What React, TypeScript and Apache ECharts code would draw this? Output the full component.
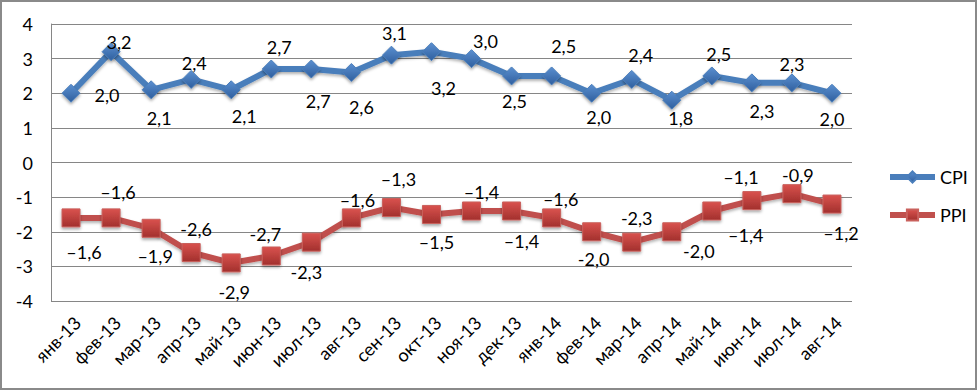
import React, { useEffect, useRef } from "react";
import * as echarts from "echarts";

const CATEGORIES = [
  "янв-13", "фев-13", "мар-13", "апр-13", "май-13", "июн-13", "июл-13", "авг-13",
  "сен-13", "окт-13", "ноя-13", "дек-13", "янв-14", "фев-14", "мар-14", "апр-14",
  "май-14", "июн-14", "июл-14", "авг-14",
];
const CPI = [2.0, 3.2, 2.1, 2.4, 2.1, 2.7, 2.7, 2.6, 3.1, 3.2, 3.0, 2.5, 2.5, 2.0, 2.4, 1.8, 2.5, 2.3, 2.3, 2.0];
const PPI = [-1.6, -1.6, -1.9, -2.6, -2.9, -2.7, -2.3, -1.6, -1.3, -1.5, -1.4, -1.4, -1.6, -2.0, -2.3, -2.0, -1.4, -1.1, -0.9, -1.2];
const PPI_LABELS = [
  "–1,6", "–1,6", "–1,9", "-2,6", "-2,9", "-2,7", "-2,3", "–1,6", "–1,3", "–1,5",
  "–1,4", "–1,4", "–1,6", "-2,0", "-2,3", "-2,0", "–1,4", "–1,1", "-0,9", "–1,2",
];
const Y_MIN = -4;
const Y_MAX = 4;
const Y_STEP = 1;

// label placement (pixel offsets from each marker)
const CPI_LABEL_OFFSETS: [number, number][] = [
  [36, 2], [8, -10], [8, 28], [3, -16], [13, 26], [8, -22], [7, 32], [10, 35], [3, -22], [12, 36],
  [14, -18], [3, 25], [12, -30], [7, 24], [9, -24], [9, 18], [7, -22], [10, 28], [0, -19], [0, 26],
];
const PPI_LABEL_OFFSETS: [number, number][] = [
  [13, 34], [7, -26], [4, 28], [5, -24], [3, 29], [-6, -22], [-5, 30], [6, -18], [7, -29], [5, 28],
  [10, -19], [10, 30], [9, -19], [2, 27], [5, -24], [27, 19], [34, 24], [-11, -24], [6, -19], [9, 29],
];

const FONT = "Lato";

export default function App() {
  const ref = useRef<HTMLDivElement>(null);
  useEffect(() => {
    document.body.style.margin = "0";
    const chart = echarts.init(ref.current!, null, { renderer: "svg" });
    const cpiMarker = new echarts.graphic.LinearGradient(0, 0, 0, 1, [
      { offset: 0, color: "#5b8fd0" },
      { offset: 1, color: "#2f5f9e" },
    ]);
    const ppiMarker = new echarts.graphic.LinearGradient(0, 0, 0, 1, [
      { offset: 0, color: "#d9524e" },
      { offset: 1, color: "#a2302d" },
    ]);
    const labelBase = {
      show: true,
      position: "inside",
      align: "center",
      verticalAlign: "middle",
      fontFamily: FONT,
      fontSize: 18,
      color: "#000",
    };
    chart.setOption({
      animation: false,
      textStyle: { fontFamily: FONT },
      graphic: [
        {
          type: "rect",
          shape: { x: 1, y: 1, width: 975, height: 388 },
          style: { fill: "none", stroke: "#8a8a8a", lineWidth: 2 },
          silent: true,
        },
      ],
      grid: { left: 51, right: 126, top: 24, bottom: 91 },
      legend: {
        orient: "vertical",
        left: 882,
        top: 163,
        itemWidth: 45,
        itemHeight: 14,
        itemGap: 20,
        lineStyle: { width: 6 },
        textStyle: { fontFamily: FONT, fontSize: 18, color: "#000" },
        data: ["CPI", "PPI"],
      },
      xAxis: {
        type: "category",
        data: CATEGORIES,
        boundaryGap: true,
        axisLine: { show: false },
        axisTick: { show: false },
        axisLabel: {
          rotate: 45,
          interval: 0,
          margin: 12,
          verticalAlign: "top",
          fontFamily: FONT,
          fontSize: 18,
          color: "#000",
        },
      },
      yAxis: {
        type: "value",
        min: Y_MIN,
        max: Y_MAX,
        interval: Y_STEP,
        axisLine: { show: true, lineStyle: { color: "#868686", width: 1 } },
        axisTick: { show: false },
        splitLine: { lineStyle: { color: "#868686", width: 1 } },
        axisLabel: { margin: 18, fontFamily: FONT, fontSize: 18, color: "#000" },
      },
      series: [
        {
          name: "CPI",
          type: "line",
          data: CPI.map((v, i) => ({ value: v, label: { offset: CPI_LABEL_OFFSETS[i] } })),
          symbol: "diamond",
          symbolSize: 18,
          lineStyle: {
            color: "#4a7ebb",
            width: 6,
            shadowColor: "rgba(0,0,0,0.3)",
            shadowBlur: 3,
            shadowOffsetY: 2,
          },
          itemStyle: {
            color: cpiMarker,
            borderColor: "#4a7ebb",
            borderWidth: 1,
            shadowColor: "rgba(0,0,0,0.35)",
            shadowBlur: 3,
            shadowOffsetY: 2,
          },
          label: {
            ...labelBase,
            formatter: (p: any) => Number(p.value).toFixed(1).replace(".", ","),
          },
        },
        {
          name: "PPI",
          type: "line",
          data: PPI.map((v, i) => ({ value: v, label: { offset: PPI_LABEL_OFFSETS[i] } })),
          symbol: "rect",
          symbolSize: 18,
          lineStyle: {
            color: "#c0504d",
            width: 6,
            shadowColor: "rgba(0,0,0,0.3)",
            shadowBlur: 3,
            shadowOffsetY: 2,
          },
          itemStyle: {
            color: ppiMarker,
            borderColor: "#c9605c",
            borderWidth: 1,
            shadowColor: "rgba(0,0,0,0.35)",
            shadowBlur: 3,
            shadowOffsetY: 2,
          },
          label: {
            ...labelBase,
            formatter: (p: any) => PPI_LABELS[p.dataIndex],
          },
        },
      ],
    });
    return () => chart.dispose();
  }, []);
  return <div ref={ref} style={{ width: 978, height: 392 }} />;
}
